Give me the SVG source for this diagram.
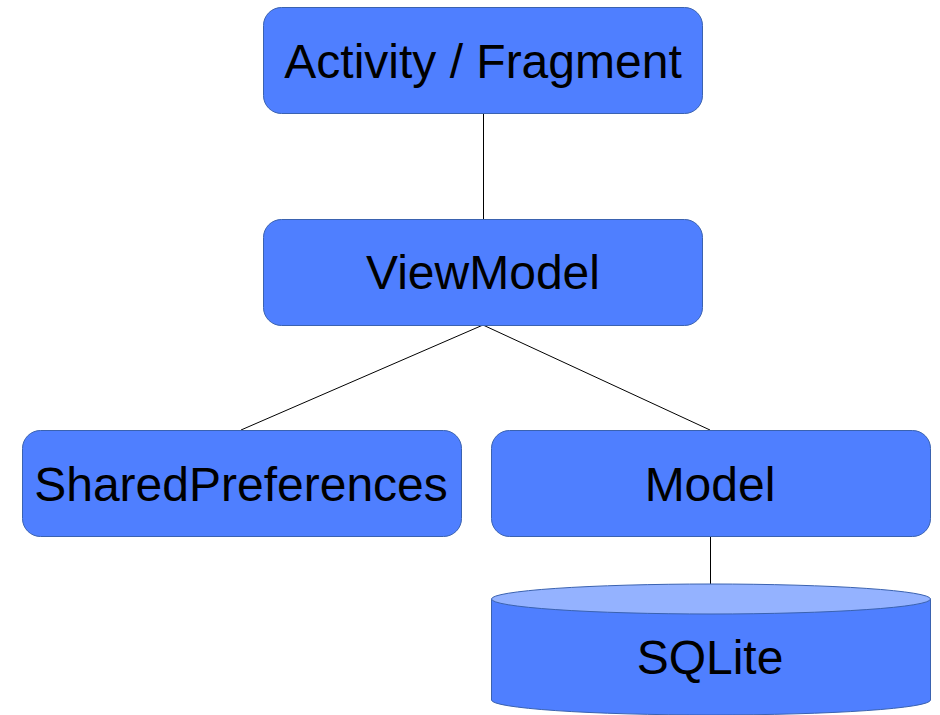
<svg xmlns="http://www.w3.org/2000/svg" width="940" height="715" viewBox="0 0 940 715">
  <style>
    .box { fill: #4f7fff; stroke: #3a62b0; stroke-width: 1; }
    .lid { fill: #94b2ff; stroke: #3a62b0; stroke-width: 1; }
    .label { font-family: "Liberation Sans", Arial, sans-serif; font-size: 48px; fill: #000; text-anchor: middle; }
    .link { stroke: #000; stroke-width: 1; fill: none; }
  </style>
  <rect width="940" height="715" fill="#fff"/>

  <!-- connectors -->
  <g id="connectors">
    <line class="link" x1="483.5" y1="113" x2="483.5" y2="219"/>
    <line class="link" x1="483" y1="325" x2="241" y2="430"/>
    <line class="link" x1="483" y1="325" x2="710" y2="430"/>
    <line class="link" x1="710.5" y1="537" x2="710.5" y2="584"/>
  </g>

  <g id="activity">
    <rect class="box" x="263.5" y="7.5" width="439" height="106" rx="18"/>
    <text class="label" x="483" y="78">Activity / Fragment</text>
  </g>

  <g id="viewmodel">
    <rect class="box" x="263.5" y="219.5" width="439" height="106" rx="18"/>
    <text class="label" x="483" y="289">ViewModel</text>
  </g>

  <g id="sharedpreferences">
    <rect class="box" x="22.5" y="430.5" width="439" height="106" rx="18"/>
    <text class="label" x="241" y="501">SharedPreferences</text>
  </g>

  <g id="model">
    <rect class="box" x="491.5" y="430.5" width="439" height="106" rx="18"/>
    <text class="label" x="710" y="501">Model</text>
  </g>

  <!-- database cylinder -->
  <g id="sqlite">
    <path class="box" d="M491.5,599 L491.5,700 A219.5,15 0 0 0 930.5,700 L930.5,599 Z"/>
    <ellipse class="lid" cx="711" cy="599" rx="219.5" ry="15"/>
    <text class="label" x="710" y="674">SQLite</text>
  </g>
</svg>
